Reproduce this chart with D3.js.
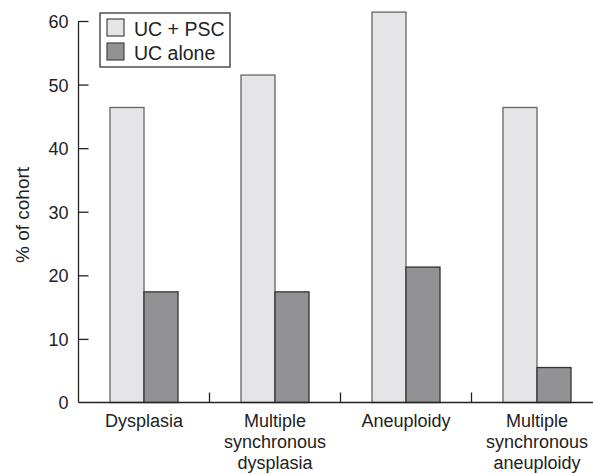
<!DOCTYPE html>
<html>
<head>
<meta charset="utf-8">
<script src="https://cdn.jsdelivr.net/npm/d3@7"></script>
<style>
  body { margin: 0; background: #fff; }
  text { font-family: "Liberation Sans", Arial, sans-serif; fill: #222; }
</style>
</head>
<body>
<svg id="chart" width="593" height="474"></svg>
<script>
// data
var categories = ["Dysplasia", "Multiple synchronous dysplasia", "Aneuploidy", "Multiple synchronous aneuploidy"];
var categoryLines = [["Dysplasia"], ["Multiple", "synchronous", "dysplasia"], ["Aneuploidy"], ["Multiple", "synchronous", "aneuploidy"]];
var seriesNames = ["UC + PSC", "UC alone"];
var ucPsc = [46.4, 51.5, 61.4, 46.4];
var ucAlone = [17.4, 17.4, 21.3, 5.5];
var yTicks = [0, 10, 20, 30, 40, 50, 60];
var colors = ["#e5e5e7", "#929295"];

var svg = d3.select("#chart");
var plotLeft = 78.5, plotBottom = 402.5, plotTop = 21;

var x = d3.scaleBand().domain(categories).range([plotLeft, plotLeft + 131 * 4]);
var xs = d3.scaleBand().domain(seriesNames).range([0, x.bandwidth()]).paddingOuter(0.926);
var y = d3.scaleLinear().domain([0, 60]).range([plotBottom, plotTop]);

var rows = categories.map(function(c, i) {
  return { cat: c, vals: [ucPsc[i], ucAlone[i]] };
});

// bars
var g = svg.selectAll(".grp").data(rows).enter().append("g")
  .attr("class", "grp")
  .attr("transform", function(d) { return "translate(" + x(d.cat) + ",0)"; });
g.selectAll("rect").data(function(d) {
    return d.vals.map(function(v, j) { return { name: seriesNames[j], v: v, j: j }; });
  })
  .enter().append("rect")
  .attr("x", function(d) { return xs(d.name); })
  .attr("width", xs.bandwidth())
  .attr("y", function(d) { return y(d.v); })
  .attr("height", function(d) { return plotBottom - y(d.v); })
  .style("fill", function(d) { return colors[d.j]; })
  .style("stroke", function(d) { return d.j == 0 ? "#666" : "#333"; })
  .style("stroke-width", 1.3);

// y axis, ticks point inward
var yAxis = svg.append("g")
  .attr("transform", "translate(" + plotLeft + ",0)")
  .call(d3.axisRight(y).tickValues(yTicks).tickSize(10).tickFormat(d3.format("d")));
yAxis.select(".domain").attr("d", "M0," + plotTop + "V" + plotBottom).style("stroke", "#222").style("stroke-width", 1.3);
yAxis.selectAll(".tick line").style("stroke", "#222").style("stroke-width", 1.3)
  .attr("display", function(d) { return d == 0 ? "none" : null; });
yAxis.selectAll(".tick text")
  .attr("x", -10).attr("dy", "0.36em")
  .style("text-anchor", "end").style("font-size", "18px").style("fill", "#222");

// x axis line with separator ticks between groups
svg.append("line")
  .attr("x1", plotLeft).attr("x2", 593)
  .attr("y1", plotBottom).attr("y2", plotBottom)
  .style("stroke", "#222").style("stroke-width", 1.3);
svg.selectAll(".sep").data(categories.slice(1)).enter().append("line")
  .attr("class", "sep")
  .attr("x1", function(d) { return x(d); }).attr("x2", function(d) { return x(d); })
  .attr("y1", plotBottom).attr("y2", plotBottom - 10)
  .style("stroke", "#222").style("stroke-width", 1.3);

// category labels
svg.selectAll(".cat").data(categories).enter().append("text")
  .attr("class", "cat")
  .attr("text-anchor", "middle")
  .style("font-size", "18px")
  .attr("transform", function(d) { return "translate(" + (x(d) + x.bandwidth() / 2) + ",427)"; })
  .selectAll("tspan").data(function(d, i) { return categoryLines[i]; })
  .enter().append("tspan")
  .attr("x", 0).attr("y", function(d, i) { return i * 21; })
  .text(function(d) { return d; });

// y label
svg.append("text")
  .attr("transform", "translate(29,215) rotate(-90)")
  .attr("text-anchor", "middle")
  .style("font-size", "19px")
  .text("% of cohort");

// legend
var lg = svg.append("g");
lg.append("rect")
  .attr("x", 100).attr("y", 13).attr("width", 130).attr("height", 54)
  .style("fill", "#fff").style("stroke", "#333").style("stroke-width", 1.3);
seriesNames.forEach(function(s, i) {
  lg.append("rect")
    .attr("x", 107).attr("y", 19 + i * 24).attr("width", 17).attr("height", 17)
    .style("fill", colors[i]).style("stroke", "#444").style("stroke-width", 1.2);
  lg.append("text")
    .attr("x", 134).attr("y", 35.5 + i * 24.5)
    .style("font-size", "19.5px")
    .text(s);
});
</script>
</body>
</html>
